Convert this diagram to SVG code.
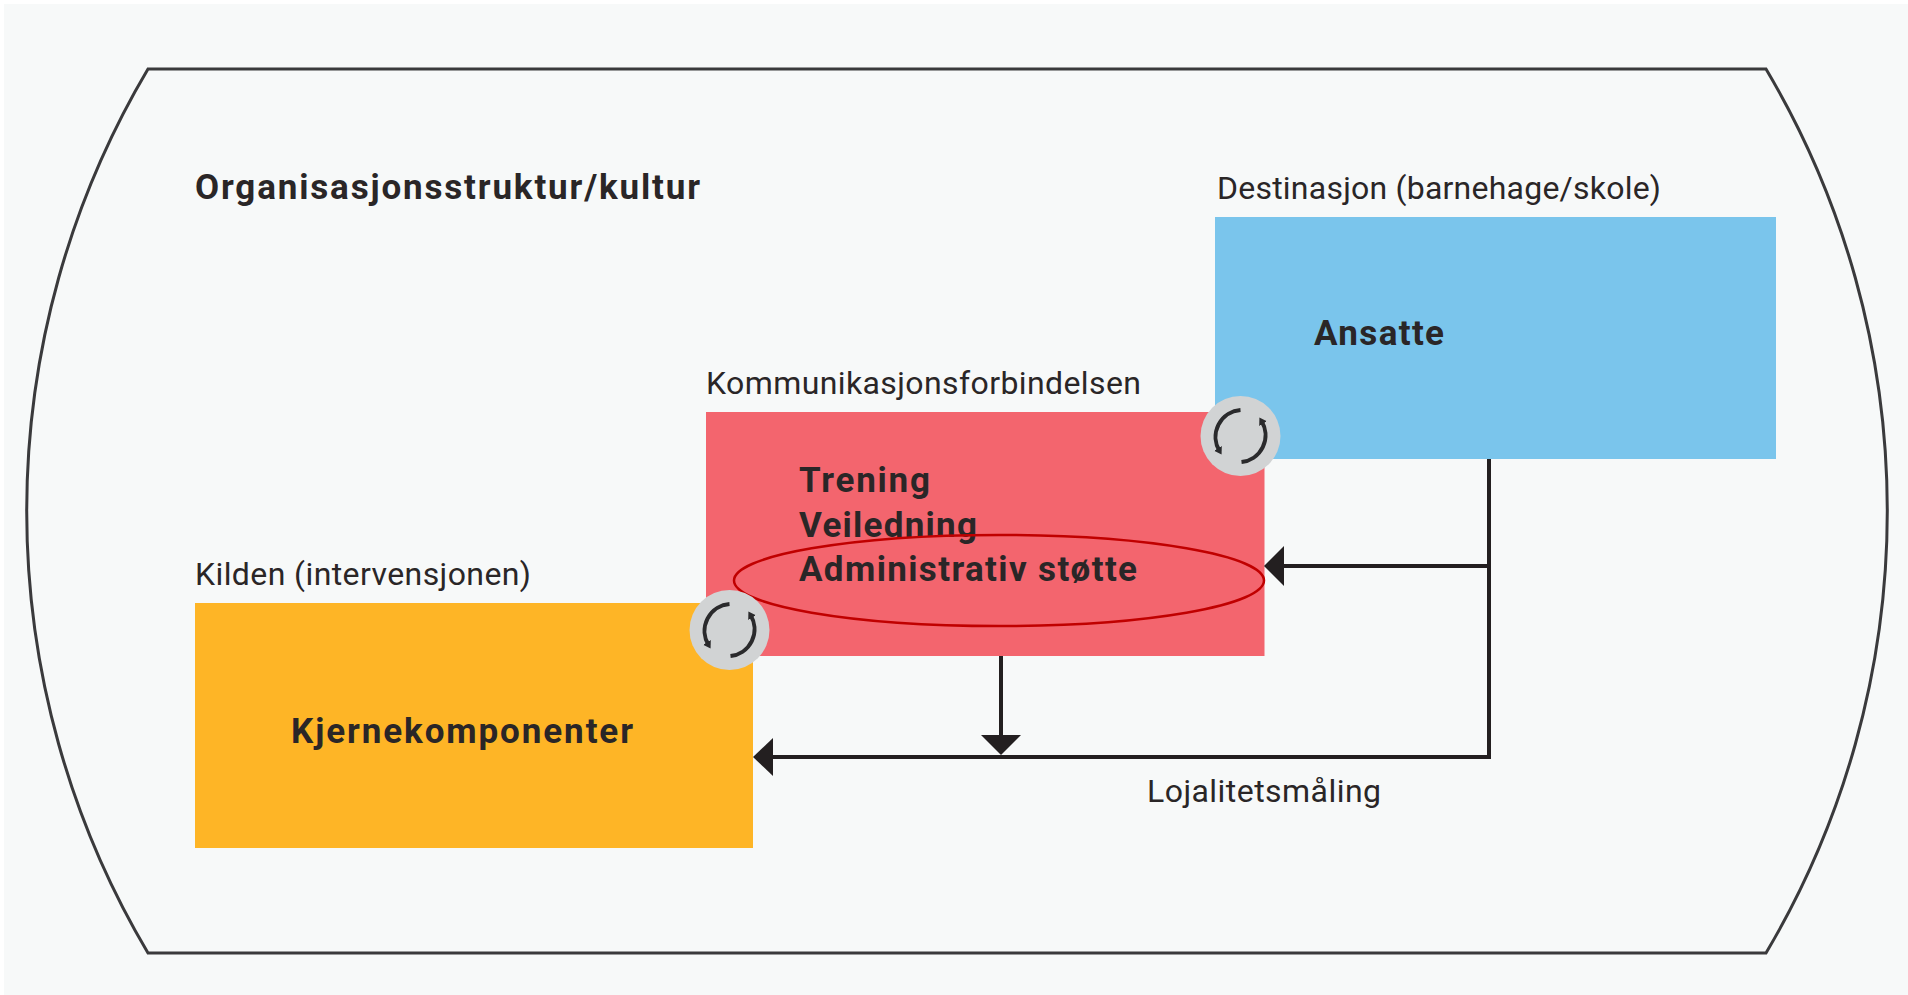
<svg xmlns="http://www.w3.org/2000/svg" width="1908" height="995" viewBox="0 0 1908 995">
<style>
.t{font-family:"Roboto","Liberation Sans",sans-serif;fill:#2a2627}
.b{font-size:35px;font-weight:700}
.r{font-size:32px;font-weight:400}
.c{fill:none;stroke:#231f20;stroke-width:4}
.h{fill:#231f20}
.sw{fill:#d1d3d4}
.ar{fill:none;stroke:#2a2a2c;stroke-width:4}
</style>
<defs>
<marker id="a" markerUnits="userSpaceOnUse" markerWidth="12" markerHeight="12" refX="3" refY="6" orient="auto"><path d="M0 1.500L7 6L0 10.500Z" fill="#2a2a2c"/></marker>
<g id="sync">
<circle class="sw" r="40"/>
<path class="ar" d="M0 -26A27 27 0 0 0 -21 15" marker-end="url(#a)"/>
<path class="ar" d="M1 26A27 27 0 0 0 21 -15" marker-end="url(#a)"/>
</g>
</defs>
<rect width="1908" height="995" fill="#fff"/>
<rect x="4" y="4" width="1904" height="991" fill="#f7f9f9"/>
<path id="frame" d="M148 69H1766A866 866 0 0 1 1766 953H148A866 866 0 0 1 148 69Z" fill="none" stroke="#3a3a3c" stroke-width="3"/>
<text class="t b" x="195" y="199" textLength="505" lengthAdjust="spacing">Organisasjonsstruktur/kultur</text>
<g id="kommunikasjon">
<rect x="706" y="412" width="558.500" height="244" fill="#f3656e"/>
<text class="t r" x="706" y="394" textLength="435" lengthAdjust="spacing">Kommunikasjonsforbindelsen</text>
<text class="t b" x="799" y="492" textLength="131" lengthAdjust="spacing">Trening</text>
<text class="t b" x="799" y="537" textLength="178" lengthAdjust="spacing">Veiledning</text>
<text class="t b" x="799" y="581" textLength="338" lengthAdjust="spacing">Administrativ støtte</text>
<ellipse cx="999" cy="580.500" rx="265" ry="45.500" fill="none" stroke="#c00000" stroke-width="2.500"/>
</g>
<g id="destinasjon">
<rect x="1215" y="217" width="561" height="242" fill="#7ac5ec"/>
<text class="t r" x="1217" y="199" textLength="444" lengthAdjust="spacing">Destinasjon (barnehage/skole)</text>
<text class="t b" x="1314" y="345" textLength="130" lengthAdjust="spacing">Ansatte</text>
</g>
<g id="kilden">
<rect x="195" y="603" width="558" height="245" fill="#feb526"/>
<text class="t r" x="195" y="585" textLength="336" lengthAdjust="spacing">Kilden (intervensjonen)</text>
<text class="t b" x="291" y="743" textLength="342" lengthAdjust="spacing">Kjernekomponenter</text>
</g>
<g id="connectors">
<path class="c" d="M1489 459V757H772"/>
<path class="c" d="M1489 566H1284"/>
<path class="c" d="M1001 656V737"/>
<path class="h" d="M753 757L773 738V776Z"/>
<path class="h" d="M1264 566L1284 546V586Z"/>
<path class="h" d="M1001 755L981 735H1021Z"/>
</g>
<use id="sync-destinasjon" href="#sync" x="1240.500" y="436"/>
<use id="sync-kilden" href="#sync" x="729.500" y="630"/>
<text class="t r" x="1147" y="802" textLength="234" lengthAdjust="spacing">Lojalitetsmåling</text>
</svg>
